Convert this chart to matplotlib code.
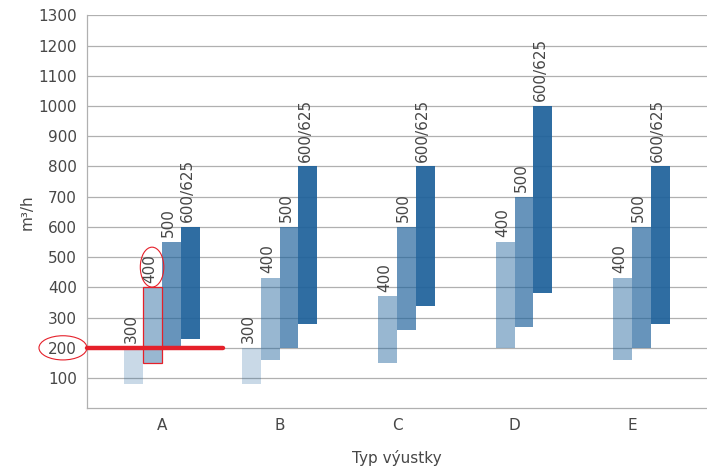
from matplotlib import pyplot as plt
from matplotlib.patches import Ellipse, Rectangle
import numpy as np

# outlet types and nozzle sizes
categories = ["A", "B", "C", "D", "E"]
sizes = ["300", "400", "500", "600/625"]

# airflow range per size (low, high) in m3/h, NaN = not available
low_300 = [80, 80, np.nan, np.nan, np.nan]
high_300 = [200, 200, np.nan, np.nan, np.nan]
low_400 = [150, 160, 150, 200, 160]
high_400 = [400, 430, 370, 550, 430]
low_500 = [200, 200, 260, 270, 200]
high_500 = [550, 600, 600, 700, 600]
low_600 = [230, 280, 340, 380, 280]
high_600 = [600, 800, 800, 1000, 800]

lows = [low_300, low_400, low_500, low_600]
highs = [high_300, high_400, high_500, high_600]

y_ticks = list(range(100, 1400, 100))

base_color = "#1f629b"
alphas = [0.24, 0.46, 0.68, 0.93]
text_color = "#474747"
grid_color = "#b0b0b0"
red = "#e5202a"

plt.rcParams["font.family"] = ["DejaVu Sans"]
plt.rcParams["font.size"] = 11

fig = plt.figure(figsize=(7.07, 4.70), dpi=100)
ax = fig.add_axes([86.7 / 707, (470 - 408.3) / 470, 1 - 86.7 / 707, (408.3 - 15.3) / 470])

x = np.arange(len(categories))
slot = 0.16
offsets = (np.arange(len(sizes)) - 1.5) * slot

for i, size in enumerate(sizes):
    lo = np.array(lows[i], dtype=float)
    hi = np.array(highs[i], dtype=float)
    xs = x + offsets[i]
    ax.bar(xs, hi - lo, bottom=lo, width=slot, color=base_color,
           alpha=alphas[i], linewidth=0, zorder=2)
    for xv, h in zip(xs, hi):
        if np.isnan(h):
            continue
        ax.annotate(size, (xv, h), xytext=(-2, 3.5), textcoords="offset points",
                    rotation=90, ha="center", va="bottom", color=text_color,
                    zorder=4)

# red highlights
a400 = x[0] + offsets[1]
ax.add_patch(Rectangle((a400 - slot / 2, low_400[0]), slot, high_400[0] - low_400[0],
                       fill=False, edgecolor=red, linewidth=0.9, zorder=5))
ax.plot([-0.641, 0.516], [200, 200], color=red, linewidth=3.2,
        solid_capstyle="round", zorder=6, clip_on=False)
ax.add_patch(Ellipse((-0.843, 200), 0.408, 80, fill=False, edgecolor=red,
                     linewidth=0.8, clip_on=False, zorder=6))
ax.add_patch(Ellipse((a400 - 0.005, 467), 0.2, 132, fill=False, edgecolor=red,
                     linewidth=0.8, clip_on=False, zorder=6))

ax.set_xlim(-0.641, 4.636)
ax.set_ylim(0, 1300)
ax.set_xticks(x)
ax.set_xticklabels(categories)
ax.set_yticks(y_ticks)
ax.tick_params(length=0, colors=text_color, pad=7)
ax.yaxis.grid(True, color=grid_color, linewidth=0.9, zorder=0)
ax.set_axisbelow(True)

for side in ["top", "right"]:
    ax.spines[side].set_visible(False)
for side in ["left", "bottom"]:
    ax.spines[side].set_color(grid_color)
    ax.spines[side].set_linewidth(0.9)

ax.set_xlabel("Typ výustky", color=text_color, labelpad=12)
ax.set_ylabel("m³/h", color=text_color, labelpad=3)

fig.savefig("out.png", dpi=100)
